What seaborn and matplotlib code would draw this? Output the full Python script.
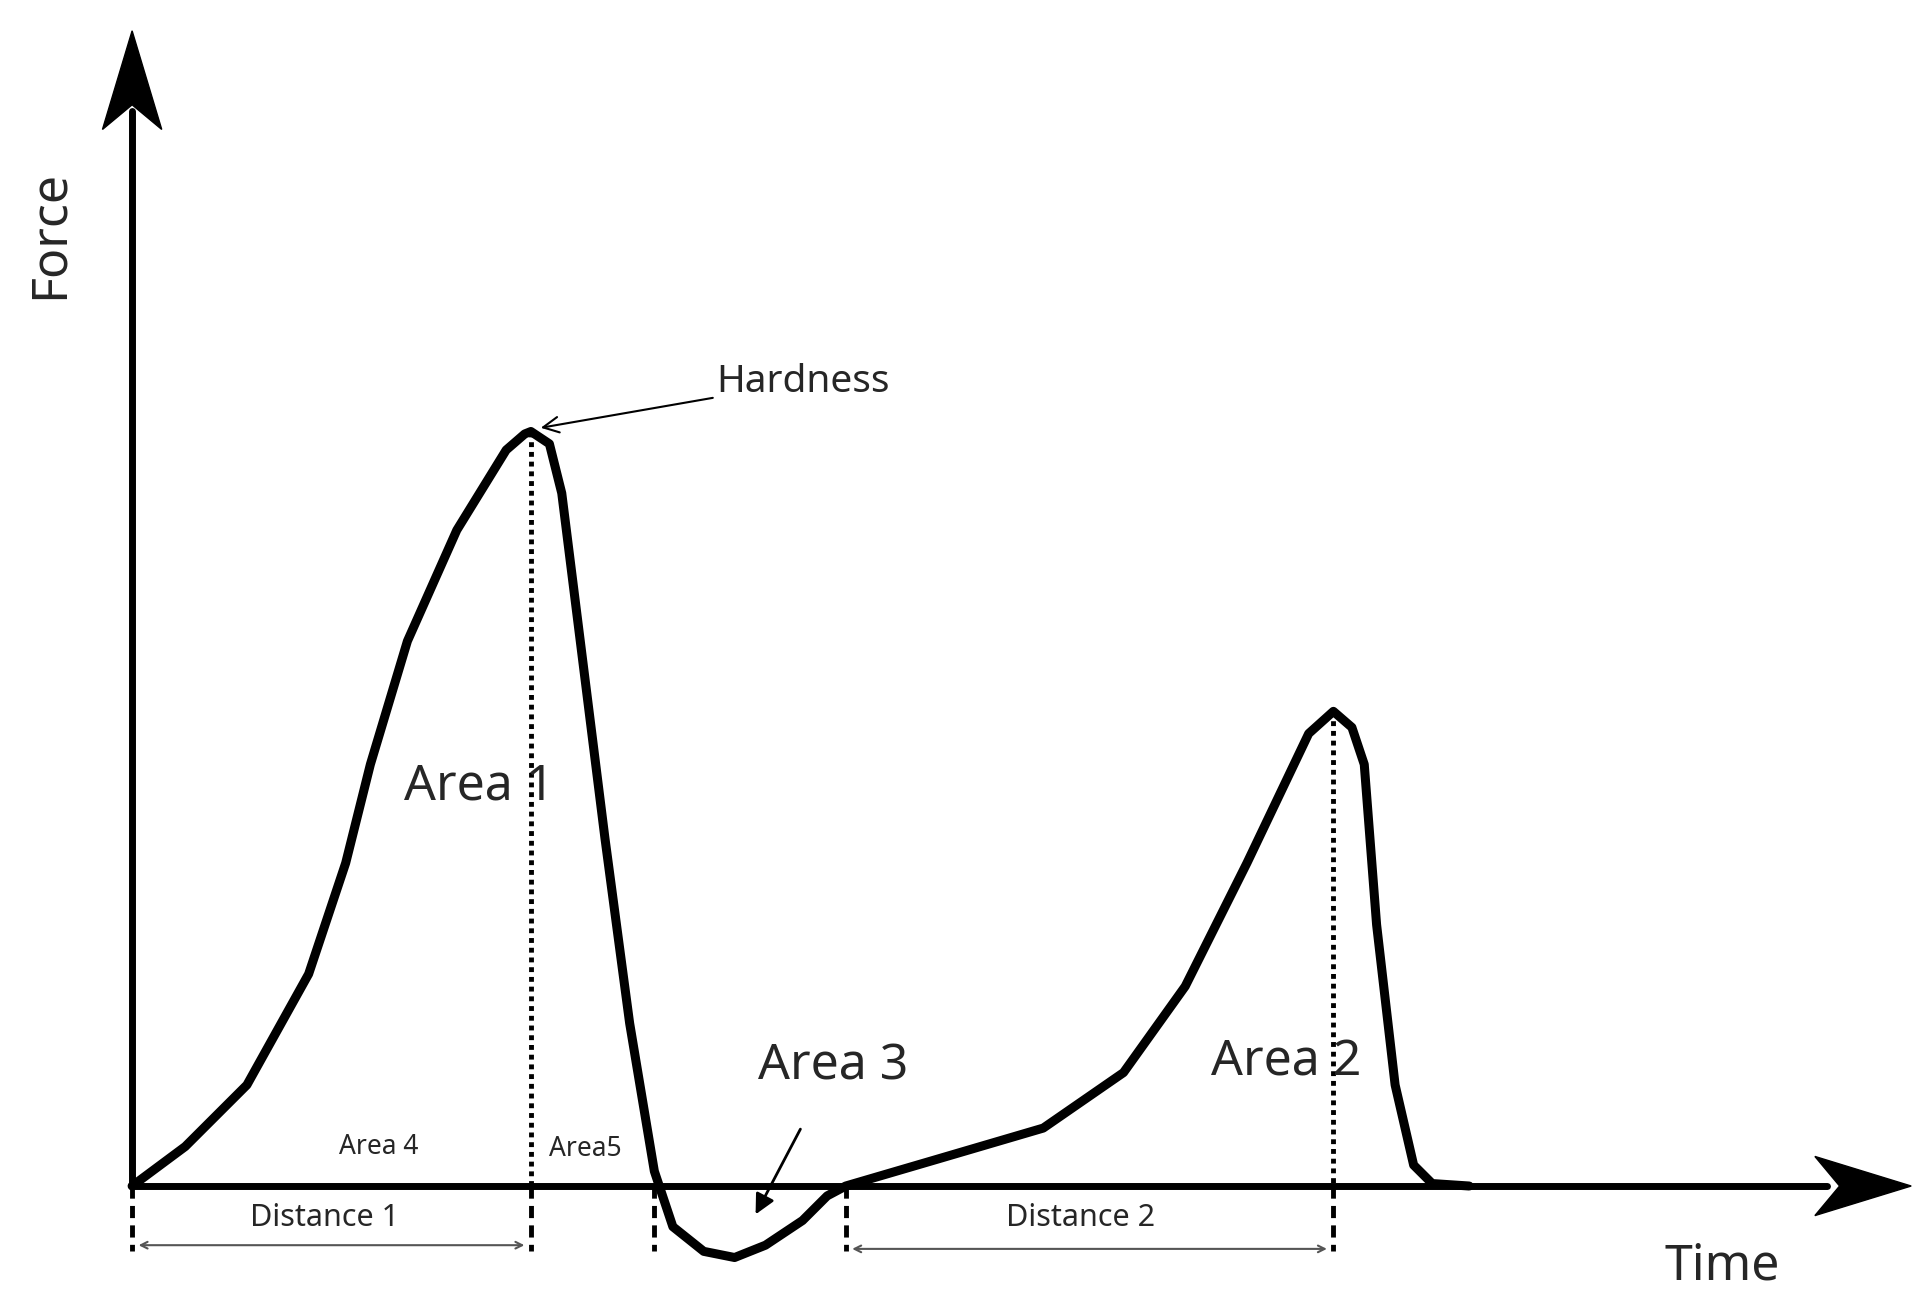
import matplotlib.pyplot as plt
import seaborn as sns

sns.set_theme(style="white")
plt.rcParams['font.family'] = ['Noto Sans', 'DejaVu Sans']

# ── curve points (time, force) in picture units, origin at axes corner ──
time = [0, 43, 93, 143, 173, 193, 223, 263, 303, 318, 323, 338, 348, 363, 383,
        403, 423, 438, 463, 488, 513, 543, 563, 578, 653, 738, 803, 853, 903,
        953, 973, 988, 998, 1008, 1023, 1038, 1053, 1083]
force = [0, 32, 82, 172, 262, 342, 442, 532, 597, 610, 612, 602, 562, 442, 282,
         132, 12, -33, -53, -58, -48, -28, -8, 0, 22, 47, 92, 162, 262,
         367, 385, 372, 342, 212, 82, 17, 2, 0]

t0, f0 = 107, 962  # axes corner in picture pixels
hardness_t, peak2_t = 323, 973
dist_marks = [0, 323, 423, 578, 973]

fig = plt.figure(figsize=(19.26, 13.13), dpi=100)
ax = fig.add_axes([0, 0, 1, 1])
ax.set_xlim(0, 1560)
ax.set_ylim(1065, 0)
ax.axis('off')

px = [t0 + t for t in time]
py = [f0 - f for f in force]
sns.lineplot(x=px, y=py, ax=ax, color='black', lw=6.5, sort=False,
             solid_joinstyle='round', solid_capstyle='round')

# axes arrows
ax.plot([t0, 1480], [f0, f0], color='black', lw=5)
ax.plot([t0, t0], [f0, 90], color='black', lw=5)
ax.fill([1470, 1548, 1470, 1490], [938, 962, 986, 962], color='black')
ax.fill([83, 107, 131, 107], [105, 25, 105, 85], color='black')

# dotted verticals to peaks
ax.plot([t0 + hardness_t] * 2, [f0 - 612, f0], color='black', lw=3.5, ls=(0, (1, 1)))
ax.plot([t0 + peak2_t] * 2, [f0 - 385, f0], color='black', lw=3.5, ls=(0, (1, 1)))

# dashed markers below axis
for m in dist_marks:
    ax.plot([t0 + m] * 2, [f0, 1015], color='black', lw=3.5, ls=(0, (2.5, 1.5)))

# distance arrows
ax.annotate('', xy=(110, 1010), xytext=(427, 1010),
            arrowprops=dict(arrowstyle='<->', color='#555555', lw=1.5))
ax.annotate('', xy=(688, 1013), xytext=(1077, 1013),
            arrowprops=dict(arrowstyle='<->', color='#555555', lw=1.5))

ax.text(263, 988, 'Distance 1', ha='center', va='center', fontsize=22, fontweight='bold')
ax.text(875, 988, 'Distance 2', ha='center', va='center', fontsize=22, fontweight='bold')
ax.text(1395, 1027, 'Time', ha='center', va='center', fontsize=36, fontweight='bold')
ax.text(40, 190, 'Force', ha='center', va='center', fontsize=36, fontweight='bold', rotation=90)

ax.annotate('Hardness', xy=(438, 347), xytext=(580, 310), fontsize=28,
            ha='left', va='center',
            arrowprops=dict(arrowstyle='->', color='black', lw=1.5, shrinkA=0, shrinkB=0))
ax.text(388, 638, 'Area 1', ha='center', va='center', fontsize=36)
ax.text(1042, 862, 'Area 2', ha='center', va='center', fontsize=36)
ax.annotate('Area 3', xy=(612, 985), xytext=(675, 865), fontsize=36,
            ha='center', va='center',
            arrowprops=dict(arrowstyle='-|>', color='black', lw=2,
                            mutation_scale=30, shrinkA=28, shrinkB=0))
ax.text(307, 930, 'Area 4', ha='center', va='center', fontsize=19)
ax.text(474, 932, 'Area5', ha='center', va='center', fontsize=19)

fig.savefig('out.png', dpi=100)
